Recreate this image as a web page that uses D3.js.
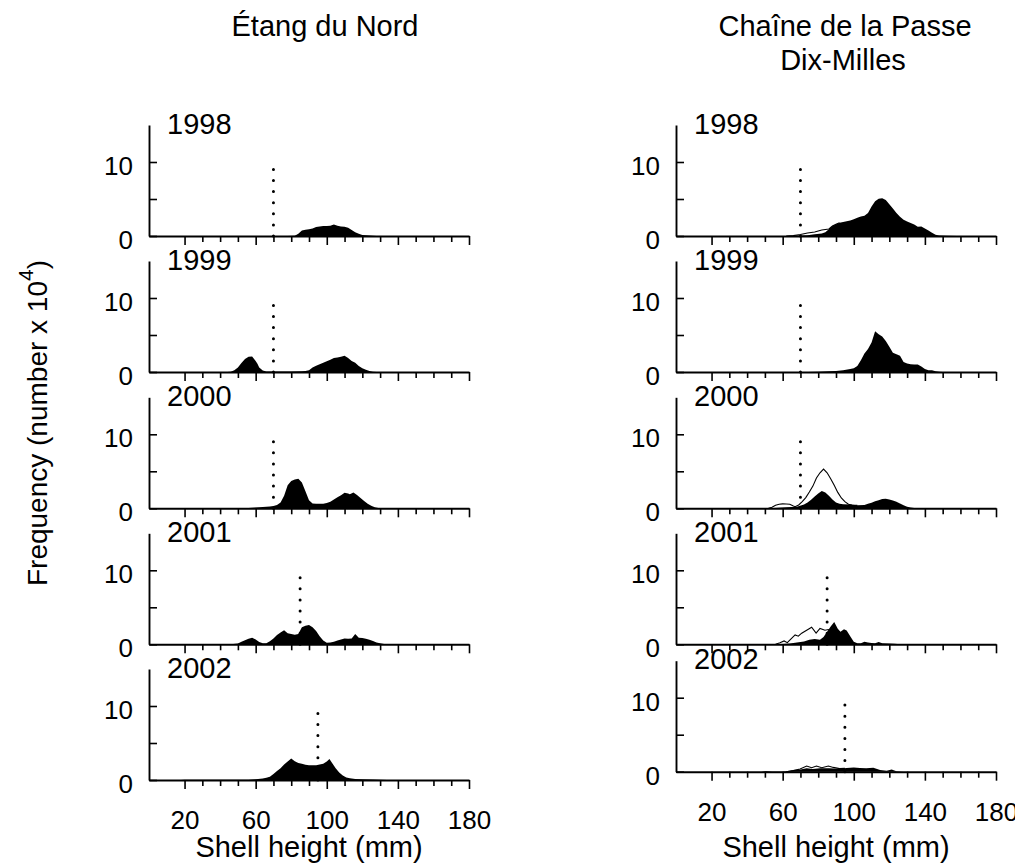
<!DOCTYPE html>
<html>
<head>
<meta charset="utf-8">
<script src="https://cdn.jsdelivr.net/npm/d3@7"></script>
<style>
  body { margin: 0; background: #fff; }
  svg { display: block; font-family: "Liberation Sans", Arial, sans-serif; }
</style>
</head>
<body>
<svg width="1015" height="865"></svg>
<script>
// Size-frequency of scallops, sampled by eye from the figure: [shell height mm, frequency x 10^4]
const years = ['1998', '1999', '2000', '2001', '2002'];
const minSize = [70, 70, 70, 85, 95];   // dotted line position for each year
const xMajor = [20, 60, 100, 140, 180];
const xMinor = [30, 40, 50, 70, 80, 90, 110, 120, 130, 150, 160, 170];
const yTicks = [0, 5, 10];
const yLabels = [0, 10];

const etang1998 = [[78,0],[82,0.05],[84,0.3],[86,0.75],[88,0.85],[90,0.9],[92,1.0],[94,1.2],[96,1.3],[98,1.35],[100,1.35],[102,1.4],[104,1.55],[106,1.4],[108,1.3],[110,1.25],[112,1.1],[114,0.8],[116,0.5],[118,0.3],[120,0.12],[122,0.1],[124,0.08],[126,0.03],[128,0]];
const etang1999 = [[44,0],[46,0.05],[48,0.25],[50,0.6],[52,1.2],[54,1.75],[56,2.05],[58,2.1],[60,1.5],[61,1.1],[62,0.6],[64,0.2],[66,0.08],[70,0.06],[80,0.06],[86,0.1],[88,0.15],[90,0.25],[92,0.6],[94,0.85],[96,1.05],[98,1.25],[100,1.45],[102,1.65],[104,1.9],[106,1.95],[108,2.05],[110,2.2],[112,1.9],[114,1.5],[116,1.25],[118,0.8],[120,0.5],[122,0.3],[124,0.15],[126,0.05],[128,0]];
const etang2000 = [[50,0],[56,0.05],[60,0.12],[64,0.18],[68,0.25],[70,0.3],[72,0.45],[74,0.8],[76,1.7],[78,3.1],[80,3.7],[82,3.9],[84,4.0],[86,3.5],[88,2.3],[90,1.1],[92,0.65],[94,0.6],[96,0.6],[98,0.6],[100,0.7],[102,0.9],[104,1.2],[106,1.5],[108,1.75],[110,2.1],[112,2.0],[113,1.9],[115,2.15],[117,1.8],[119,1.4],[121,1.0],[123,0.6],[125,0.35],[127,0.15],[129,0.05],[132,0]];
const etang2001 = [[46,0],[50,0.12],[52,0.35],[54,0.55],[56,0.75],[58,0.9],[60,0.65],[62,0.3],[64,0.15],[66,0.15],[68,0.4],[70,0.8],[72,1.25],[74,1.6],[76,1.9],[78,1.5],[80,1.4],[82,1.3],[84,1.4],[86,2.3],[88,2.5],[90,2.6],[92,2.3],[94,1.8],[96,1.1],[98,0.5],[100,0.22],[102,0.25],[104,0.36],[106,0.5],[108,0.65],[110,0.8],[112,0.75],[114,0.8],[116,1.4],[118,0.9],[120,0.85],[122,0.75],[124,0.6],[126,0.45],[128,0.25],[130,0.13],[133,0]];
const etang2002 = [[18,0],[20,0.03],[40,0.03],[56,0.05],[60,0.1],[64,0.2],[66,0.3],[68,0.45],[70,0.8],[72,1.2],[74,1.6],[76,2.1],[78,2.5],[80,2.9],[82,2.55],[84,2.3],[86,2.2],[88,2.05],[90,2.0],[92,2.0],[94,2.0],[96,2.1],[98,2.2],[100,2.5],[101.5,2.85],[103,2.3],[105,1.6],[107,1.0],[109,0.6],[111,0.35],[113,0.22],[116,0.14],[120,0.1],[126,0.06],[134,0]];

const chaine1998 = [[62,0],[66,0.05],[70,0.08],[74,0.1],[78,0.22],[82,0.35],[84,0.5],[86,0.9],[88,1.35],[90,1.6],[92,1.8],[94,1.9],[96,2.0],[98,2.1],[100,2.25],[102,2.45],[104,2.65],[106,2.75],[108,3.1],[110,4.0],[112,4.7],[114,5.05],[116,5.1],[118,4.85],[120,4.3],[122,3.7],[124,3.1],[126,2.6],[128,2.2],[130,1.95],[132,1.75],[134,1.55],[136,1.25],[138,1.3],[140,1.0],[142,0.75],[144,0.45],[146,0.18],[148,0.08],[152,0.04],[158,0]];
const chaine1999 = [[74,0],[80,0.05],[86,0.1],[90,0.13],[94,0.25],[98,0.4],[100,0.5],[102,0.8],[104,1.6],[106,2.5],[108,3.1],[110,4.0],[112,5.5],[114,5.1],[116,4.8],[118,4.2],[120,3.4],[122,2.6],[124,2.4],[126,2.2],[128,1.35],[130,1.15],[132,1.05],[134,1.0],[136,1.0],[138,0.75],[140,0.4],[142,0.25],[144,0.22],[146,0.1],[148,0.03],[150,0]];
const chaine2000 = [[50,0],[55,0.05],[62,0.13],[68,0.22],[72,0.5],[74,0.8],[76,1.15],[78,1.6],[80,2.0],[82,2.35],[84,2.15],[86,1.7],[88,1.2],[90,0.8],[92,0.6],[94,0.54],[98,0.5],[102,0.4],[106,0.45],[108,0.6],[110,0.75],[112,0.95],[114,1.1],[116,1.25],[118,1.28],[120,1.2],[122,1.05],[124,0.9],[126,0.65],[128,0.42],[130,0.22],[132,0.1],[135,0]];
const chaine2001 = [[56,0],[60,0.05],[64,0.12],[68,0.25],[72,0.38],[75,0.6],[78,0.72],[81,0.6],[83,1.0],[85,1.7],[87,2.4],[89,3.0],[91,2.1],[92.5,1.7],[94.5,2.05],[96,1.85],[98,1.1],[100,0.35],[102,0.15],[104,0.15],[106,0.35],[108,0.25],[110,0.18],[112,0.13],[114,0.3],[116,0.15],[120,0.1],[123,0.06],[126,0]];
const chaine2002 = [[48,0],[51,0.09],[54,0.02],[60,0.02],[64,0.12],[66,0.22],[70,0.3],[73.5,0.45],[77,0.36],[81,0.45],[86,0.45],[92,0.4],[96,0.5],[100,0.58],[103.5,0.5],[107,0.45],[111,0.54],[114.8,0.22],[118.5,0.13],[121.3,0.3],[124,0.05],[128,0]];

// second (outline) series on the Chaîne panels
const chaine1998Line = [[62,0],[66,0.05],[70,0.2],[74,0.4],[78,0.55],[82,0.8],[86,0.95],[88,1.35],[90,1.6],[92,1.8]];
const chaine2000Line = [[52,0],[54,0.15],[56,0.42],[58,0.55],[60,0.6],[62,0.58],[64,0.54],[66,0.3],[67,0.22],[69,0.45],[71,0.9],[73,1.45],[75,2.2],[77,3.0],[79,4.1],[81,4.8],[83,5.3],[85,4.8],[87,4.0],[89,3.1],[91,2.15],[93,1.4],[95,0.9],[97,0.55],[99,0.45],[102,0.4]];
const chaine2001Line = [[56,0],[58.5,0.22],[60.8,0.45],[62.6,0.22],[65,0.8],[67,1.26],[68.8,1.1],[70.7,1.5],[73.5,1.9],[76.3,2.3],[78.8,1.5],[81,2.15],[83.8,1.9],[85.7,2.0],[88,1.5],[90,1.2]];
const chaine2002Line = [[62,0],[66,0.15],[69.8,0.36],[73.5,0.77],[76.3,0.54],[79,0.77],[82,0.54],[85.7,0.77],[88.5,0.58],[92,0.42],[95,0.45]];

const svg = d3.select('svg');

const columns = [
  { range: [149, 469], zeros: [236, 372, 508.3, 644.3, 780],
    fills: [etang1998, etang1999, etang2000, etang2001, etang2002],
    lines: [null, null, null, null, null] },
  { range: [676, 996], zeros: [236, 372, 508.3, 644.3, 771.7],
    fills: [chaine1998, chaine1999, chaine2000, chaine2001, chaine2002],
    lines: [chaine1998Line, null, chaine2000Line, chaine2001Line, chaine2002Line] }
];

const panelH = 111;

columns.forEach(col => {
  const x = d3.scaleLinear().domain([0, 180]).range(col.range);

  years.forEach((yr, i) => {
    const zero = col.zeros[i];
    const y = d3.scaleLinear().domain([0, 15]).range([zero, zero - panelH]);
    const g = svg.append('g');

    const area = d3.area().x(d => x(d[0])).y0(y(0)).y1(d => y(d[1]));
    g.append('path').datum(col.fills[i]).attr('d', area).attr('fill', '#000');

    if (col.lines[i]) {
      const line = d3.line().x(d => x(d[0])).y(d => y(d[1]));
      g.append('path').datum(col.lines[i]).attr('d', line)
        .attr('fill', 'none').attr('stroke', '#000').attr('stroke-width', 1.1);
    }

    // dotted reference line
    g.append('line')
      .attr('x1', x(minSize[i])).attr('x2', x(minSize[i]))
      .attr('y1', y(0)).attr('y2', y(9) - 0.5)
      .attr('stroke', '#000').attr('stroke-width', 3)
      .attr('stroke-linecap', 'round')
      .attr('stroke-dasharray', `0 ${(y(0) - y(9)) / 6}`);

    // x axis: minor then major ticks
    const minorAx = g.append('g').attr('transform', `translate(0,${zero})`)
      .call(d3.axisBottom(x).tickValues(xMinor).tickSize(6).tickSizeOuter(0).tickFormat(''));
    minorAx.select('.domain').remove();

    const majorAx = g.append('g').attr('transform', `translate(0,${zero})`)
      .call(d3.axisBottom(x).tickValues(xMajor).tickSize(9).tickSizeOuter(0).tickPadding(22)
        .tickFormat(i === years.length - 1 ? d3.format('d') : ''));
    majorAx.selectAll('text').attr('font-size', 26).attr('fill', '#000')
      .attr('font-family', '"Liberation Sans", Arial, sans-serif');

    // y axis with inward ticks
    const yAx = g.append('g').attr('transform', `translate(${col.range[0]},0)`)
      .call(d3.axisLeft(y).tickValues(yTicks).tickSize(-8).tickSizeOuter(0).tickPadding(16)
        .tickFormat(d => yLabels.includes(d) ? d : ''));
    yAx.selectAll('text').attr('font-size', 26).attr('dy', '0.48em').attr('fill', '#000')
      .attr('font-family', '"Liberation Sans", Arial, sans-serif');

    [minorAx, majorAx, yAx].forEach(a => {
      a.selectAll('line').attr('stroke', '#000').attr('stroke-width', 1.6);
      a.select('.domain').attr('stroke', '#000').attr('stroke-width', 1.9);
    });

    g.append('text')
      .attr('x', col.range[0] + 18).attr('y', zero - 102.5)
      .attr('font-size', 29).text(yr);
  });

  svg.append('text')
    .attr('x', (col.range[0] + col.range[1]) / 2).attr('y', 857)
    .attr('text-anchor', 'middle').attr('font-size', 29)
    .text('Shell height (mm)');
});

// column titles
svg.append('text').attr('x', 325).attr('y', 36).attr('text-anchor', 'middle')
  .attr('font-size', 29).text('Étang du Nord');
svg.append('text').attr('x', 845).attr('y', 36).attr('text-anchor', 'middle')
  .attr('font-size', 29).text('Chaîne de la Passe');
svg.append('text').attr('x', 843).attr('y', 70).attr('text-anchor', 'middle')
  .attr('font-size', 29).text('Dix-Milles');

// y axis title
const yTitle = svg.append('text')
  .attr('transform', 'translate(47,423) rotate(-90)')
  .attr('text-anchor', 'middle').attr('font-size', 28);
yTitle.append('tspan').text('Frequency (number x 10');
yTitle.append('tspan').attr('font-size', 21).attr('dy', -14).text('4');
yTitle.append('tspan').attr('dy', 14).text(')');
</script>
</body>
</html>
